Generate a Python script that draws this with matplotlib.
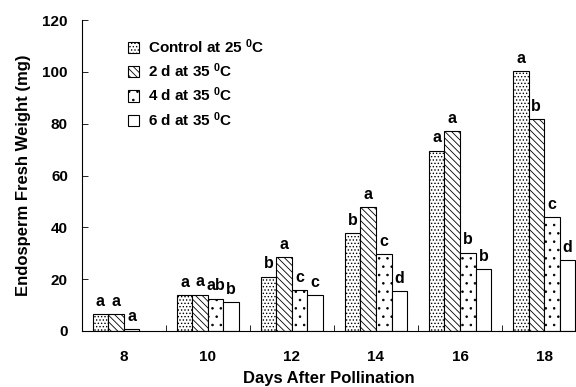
import numpy as np
import matplotlib.pyplot as plt

plt.rcParams['font.family'] = ['Liberation Sans', 'DejaVu Sans']
plt.rcParams['font.weight'] = 'bold'
plt.rcParams['mathtext.fontset'] = 'custom'
plt.rcParams['mathtext.rm'] = 'Liberation Sans:bold'
plt.rcParams['mathtext.it'] = 'Liberation Sans:bold'
plt.rcParams['mathtext.bf'] = 'Liberation Sans:bold'
plt.rcParams['hatch.linewidth'] = 0.6

days = ['8', '10', '12', '14', '16', '18']
control = [6.5, 13.8, 21.0, 37.8, 69.6, 100.3]
d2 = [6.5, 14.0, 28.6, 47.9, 77.3, 81.7]
d4 = [0.8, 12.5, 15.8, 29.8, 30.2, 43.8]
d6 = [np.nan, 11.0, 13.7, 15.4, 23.8, 27.2]

lab_control = ['a', 'a', 'b', 'b', 'a', 'a']
lab_d2 = ['a', 'a', 'a', 'a', 'a', 'b']
lab_d4 = ['a', 'ab', 'c', 'c', 'b', 'c']
lab_d6 = ['', 'b', 'c', 'd', 'b', 'd']

names = ['Control at 25 $^0$C', '2 d at 35 $^0$C', '4 d at 35 $^0$C', '6 d at 35 $^0$C']
hatches = ['.....', '\\\\\\\\\\', '..', '']

fig = plt.figure(figsize=(5.76, 3.87), dpi=100)
ax = fig.add_axes([0.142, 0.145, 0.858, 0.803])

x = np.arange(len(days))
w = 0.185
series = [control, d2, d4, d6]
labels = [lab_control, lab_d2, lab_d4, lab_d6]
for i, (vals, labs) in enumerate(zip(series, labels)):
    pos = x + (i - 1.5) * w
    ax.bar(pos, vals, w, color='white', edgecolor='black', linewidth=0.8,
           hatch=hatches[i], label=names[i])
    for p, v, t in zip(pos, vals, labs):
        if t and not np.isnan(v):
            ax.text(p, v + 2, t, ha='center', va='bottom', fontsize=11.5, fontweight='bold')

ax.set_ylim(0, 120)
ax.set_xlim(-0.5, 5.38)
ax.set_yticks(range(0, 121, 20))
ax.set_xticks(x)
ax.set_xticklabels(days)
ax.set_xticks(x[:-1] + 0.5, minor=True)
ax.tick_params(axis='x', which='major', length=0, labelsize=11, pad=14)
ax.tick_params(axis='x', which='minor', direction='in', length=4, width=0.6)
ax.tick_params(axis='y', direction='in', length=4, width=0.6, labelsize=11, pad=10)
for s in ['top', 'right']:
    ax.spines[s].set_visible(False)
ax.spines['left'].set_linewidth(0.8)
ax.spines['bottom'].set_linewidth(0.8)

ax.set_xlabel('Days After Pollination', fontsize=12, fontweight='bold', labelpad=5)
ax.set_ylabel('Endosperm Fresh Weight (mg)', fontsize=12, fontweight='bold', labelpad=8)

leg = ax.legend(loc='upper left', bbox_to_anchor=(0.065, 0.99), frameon=False,
                fontsize=11, handlelength=0.75, handleheight=0.75, handletextpad=0.6,
                labelspacing=0.38)

fig.savefig('out.png', dpi=100)
